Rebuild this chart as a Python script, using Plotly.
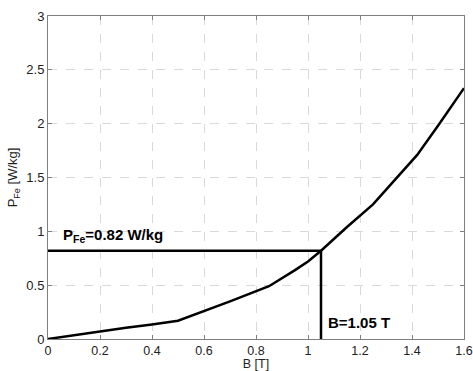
import plotly.graph_objects as go

B = [0, 0.15, 0.3, 0.4, 0.5, 0.7, 0.85, 0.95, 1.0, 1.05, 1.15, 1.25, 1.42, 1.5, 1.6]
P = [0, 0.055, 0.105, 0.135, 0.17, 0.35, 0.49, 0.64, 0.72, 0.82, 1.04, 1.25, 1.71, 1.98, 2.33]
B_op = 1.05
P_op = 0.82
xticks = [0, 0.2, 0.4, 0.6, 0.8, 1.0, 1.2, 1.4, 1.6]
xlabels = ["0", "0.2", "0.4", "0.6", "0.8", "1", "1.2", "1.4", "1.6"]
yticks = [0, 0.5, 1, 1.5, 2, 2.5, 3]
ylabels = ["0", "0.5", "1", "1.5", "2", "2.5", "3"]

FONT = "Liberation Sans, Arial"

fig = go.Figure()
fig.add_trace(go.Scatter(x=B, y=P, mode="lines", line=dict(color="black", width=2.5), showlegend=False))
fig.add_trace(go.Scatter(x=[0, B_op, B_op], y=[P_op, P_op, 0], mode="lines",
                         line=dict(color="black", width=2.5), showlegend=False))

fig.add_annotation(x=0.05, y=P_op + 0.03, xref="x", yref="y", xanchor="left", yanchor="bottom",
                   text="<b>P<sub>Fe</sub>=0.82 W/kg</b>", showarrow=False,
                   font=dict(family=FONT, size=15, color="black"))
fig.add_annotation(x=B_op + 0.02, y=0.15, xref="x", yref="y", xanchor="left", yanchor="middle",
                   text="<b>B=1.05 T</b>", showarrow=False,
                   font=dict(family=FONT, size=15, color="black"))

axis_common = dict(showline=True, linecolor="#7f7f7f", linewidth=1, mirror="ticks",
                   ticks="inside", ticklen=4, tickcolor="#7f7f7f",
                   showgrid=True, gridcolor="#d9d9d9", griddash="dash", gridwidth=1,
                   zeroline=False, automargin=False)

fig.update_xaxes(range=[0, 1.6], tickvals=xticks, ticktext=xlabels,
                 tickfont=dict(family=FONT, size=12.5, color="#222222"),
                 title=dict(text="B [T]", standoff=2, font=dict(family=FONT, size=12.5, color="#222222")),
                 **axis_common)
fig.update_yaxes(range=[0, 3], tickvals=yticks, ticktext=ylabels,
                 tickfont=dict(family=FONT, size=13, color="#222222"),
                 title=dict(text="P<sub>Fe</sub> [W/kg]", standoff=5, font=dict(family=FONT, size=13, color="#222222")),
                 **axis_common)

fig.update_layout(width=473, height=371, margin=dict(l=48, r=9, t=16, b=32),
                  plot_bgcolor="white", paper_bgcolor="white")
fig.write_html("out.html")
